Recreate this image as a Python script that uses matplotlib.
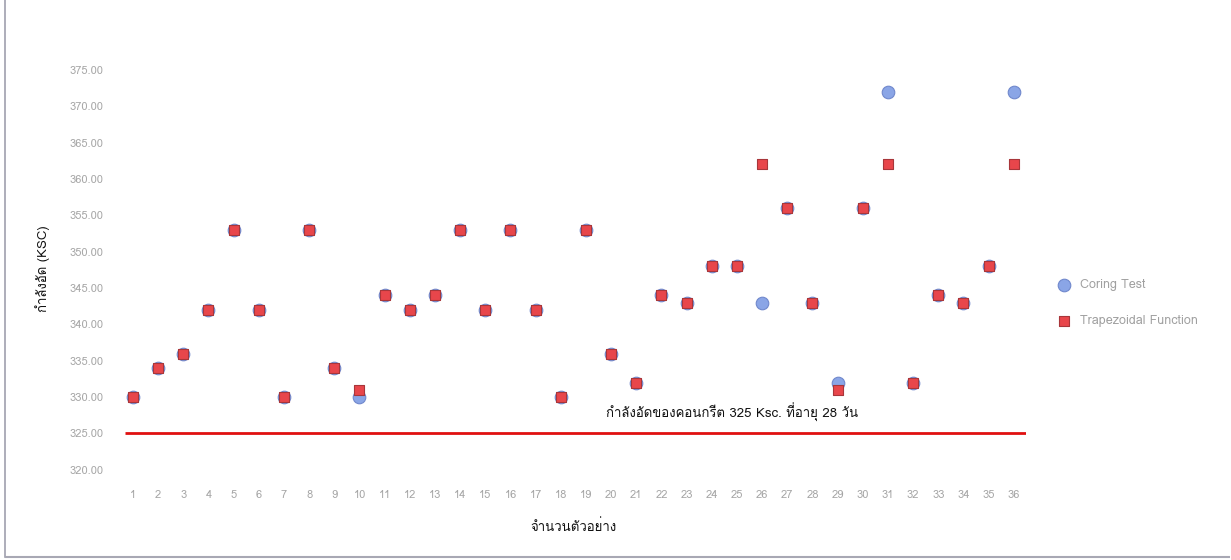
import matplotlib
matplotlib.use("Agg")
import matplotlib.pyplot as plt
from matplotlib import font_manager, ft2font
from matplotlib.lines import Line2D

# ค่ากำลังอัดของแต่ละตัวอย่าง (KSC)
samples = list(range(1, 37))
coring_test = [330, 334, 336, 342, 353, 342, 330, 353, 334, 330,
               344, 342, 344, 353, 342, 353, 342, 330, 353, 336,
               332, 344, 343, 348, 348, 343, 356, 343, 332, 356,
               372, 332, 344, 343, 348, 372]
trapezoidal = [330, 334, 336, 342, 353, 342, 330, 353, 334, 331,
               344, 342, 344, 353, 342, 353, 342, 330, 353, 336,
               332, 344, 343, 348, 348, 362, 356, 343, 331, 356,
               362, 332, 344, 343, 348, 362]
y_ticks = [320, 325, 330, 335, 340, 345, 350, 355, 360, 365, 370, 375]
design_strength = 325


def find_thai_font():
    # หาฟอนต์ที่มีตัวอักษรไทย
    for f in font_manager.fontManager.ttflist:
        try:
            if 0x0E01 in ft2font.FT2Font(f.fname).get_charmap():
                return f.name
        except Exception:
            pass
    return None


thai = find_thai_font()
families = [thai, "DejaVu Sans"] if thai else ["DejaVu Sans"]
plt.rcParams["font.family"] = families

fig = plt.figure(figsize=(12.31, 5.6), dpi=100)
ax = fig.add_axes([0.0978, 0.135, 0.736, 0.77])

ax.scatter(samples, coring_test, s=82, marker="o", color="#8aa5e6",
           edgecolors="#7088cc", linewidths=0.8, label="Coring Test", zorder=3)
ax.scatter(samples, trapezoidal, s=60, marker="s", color="#e8464b",
           edgecolors="#a8363a", linewidths=0.8, label="Trapezoidal Function", zorder=4)

ax.hlines(design_strength, 0.7, 36.5, color="#e01010", linewidth=2, zorder=2)
ax.text(19.8, 327.9, f"กำลังอัดของคอนกรีต {design_strength} Ksc. ที่อายุ 28 วัน",
        fontsize=9.5, color="#111111", va="center", ha="left")

ax.set_xlim(0.5, 36.5)
ax.set_ylim(318, 377.3)
ax.set_xticks(samples)
ax.set_yticks(y_ticks)
ax.set_yticklabels([f"{v:.2f}" for v in y_ticks])
ax.tick_params(axis="both", length=0, labelsize=8, labelcolor="#a6a6a6")
ax.tick_params(axis="y", pad=12)
ax.tick_params(axis="x", pad=4)
for sp in ax.spines.values():
    sp.set_visible(False)

ax.set_ylabel("กำลังอัด (KSC)", fontsize=9.5, color="#111111", labelpad=14)
ax.set_xlabel("จำนวนตัวอย่าง", fontsize=9.5, color="#111111", labelpad=14)

fig.legend(loc="upper left", bbox_to_anchor=(1040 / 1231, 1 - 268 / 560),
           frameon=False, fontsize=9, labelcolor="#a0a0a0",
           labelspacing=1.9, handletextpad=0.3, scatterpoints=1)

# เส้นขอบซ้ายและล่าง
fig.add_artist(Line2D([5 / 1231, 5 / 1231], [0.005, 1], transform=fig.transFigure,
                      color="#a0a0ae", linewidth=1.2))
fig.add_artist(Line2D([0.005, 0.998], [3 / 560, 3 / 560], transform=fig.transFigure,
                      color="#a8a8b4", linewidth=1.5))

fig.savefig("out.png", dpi=100)
